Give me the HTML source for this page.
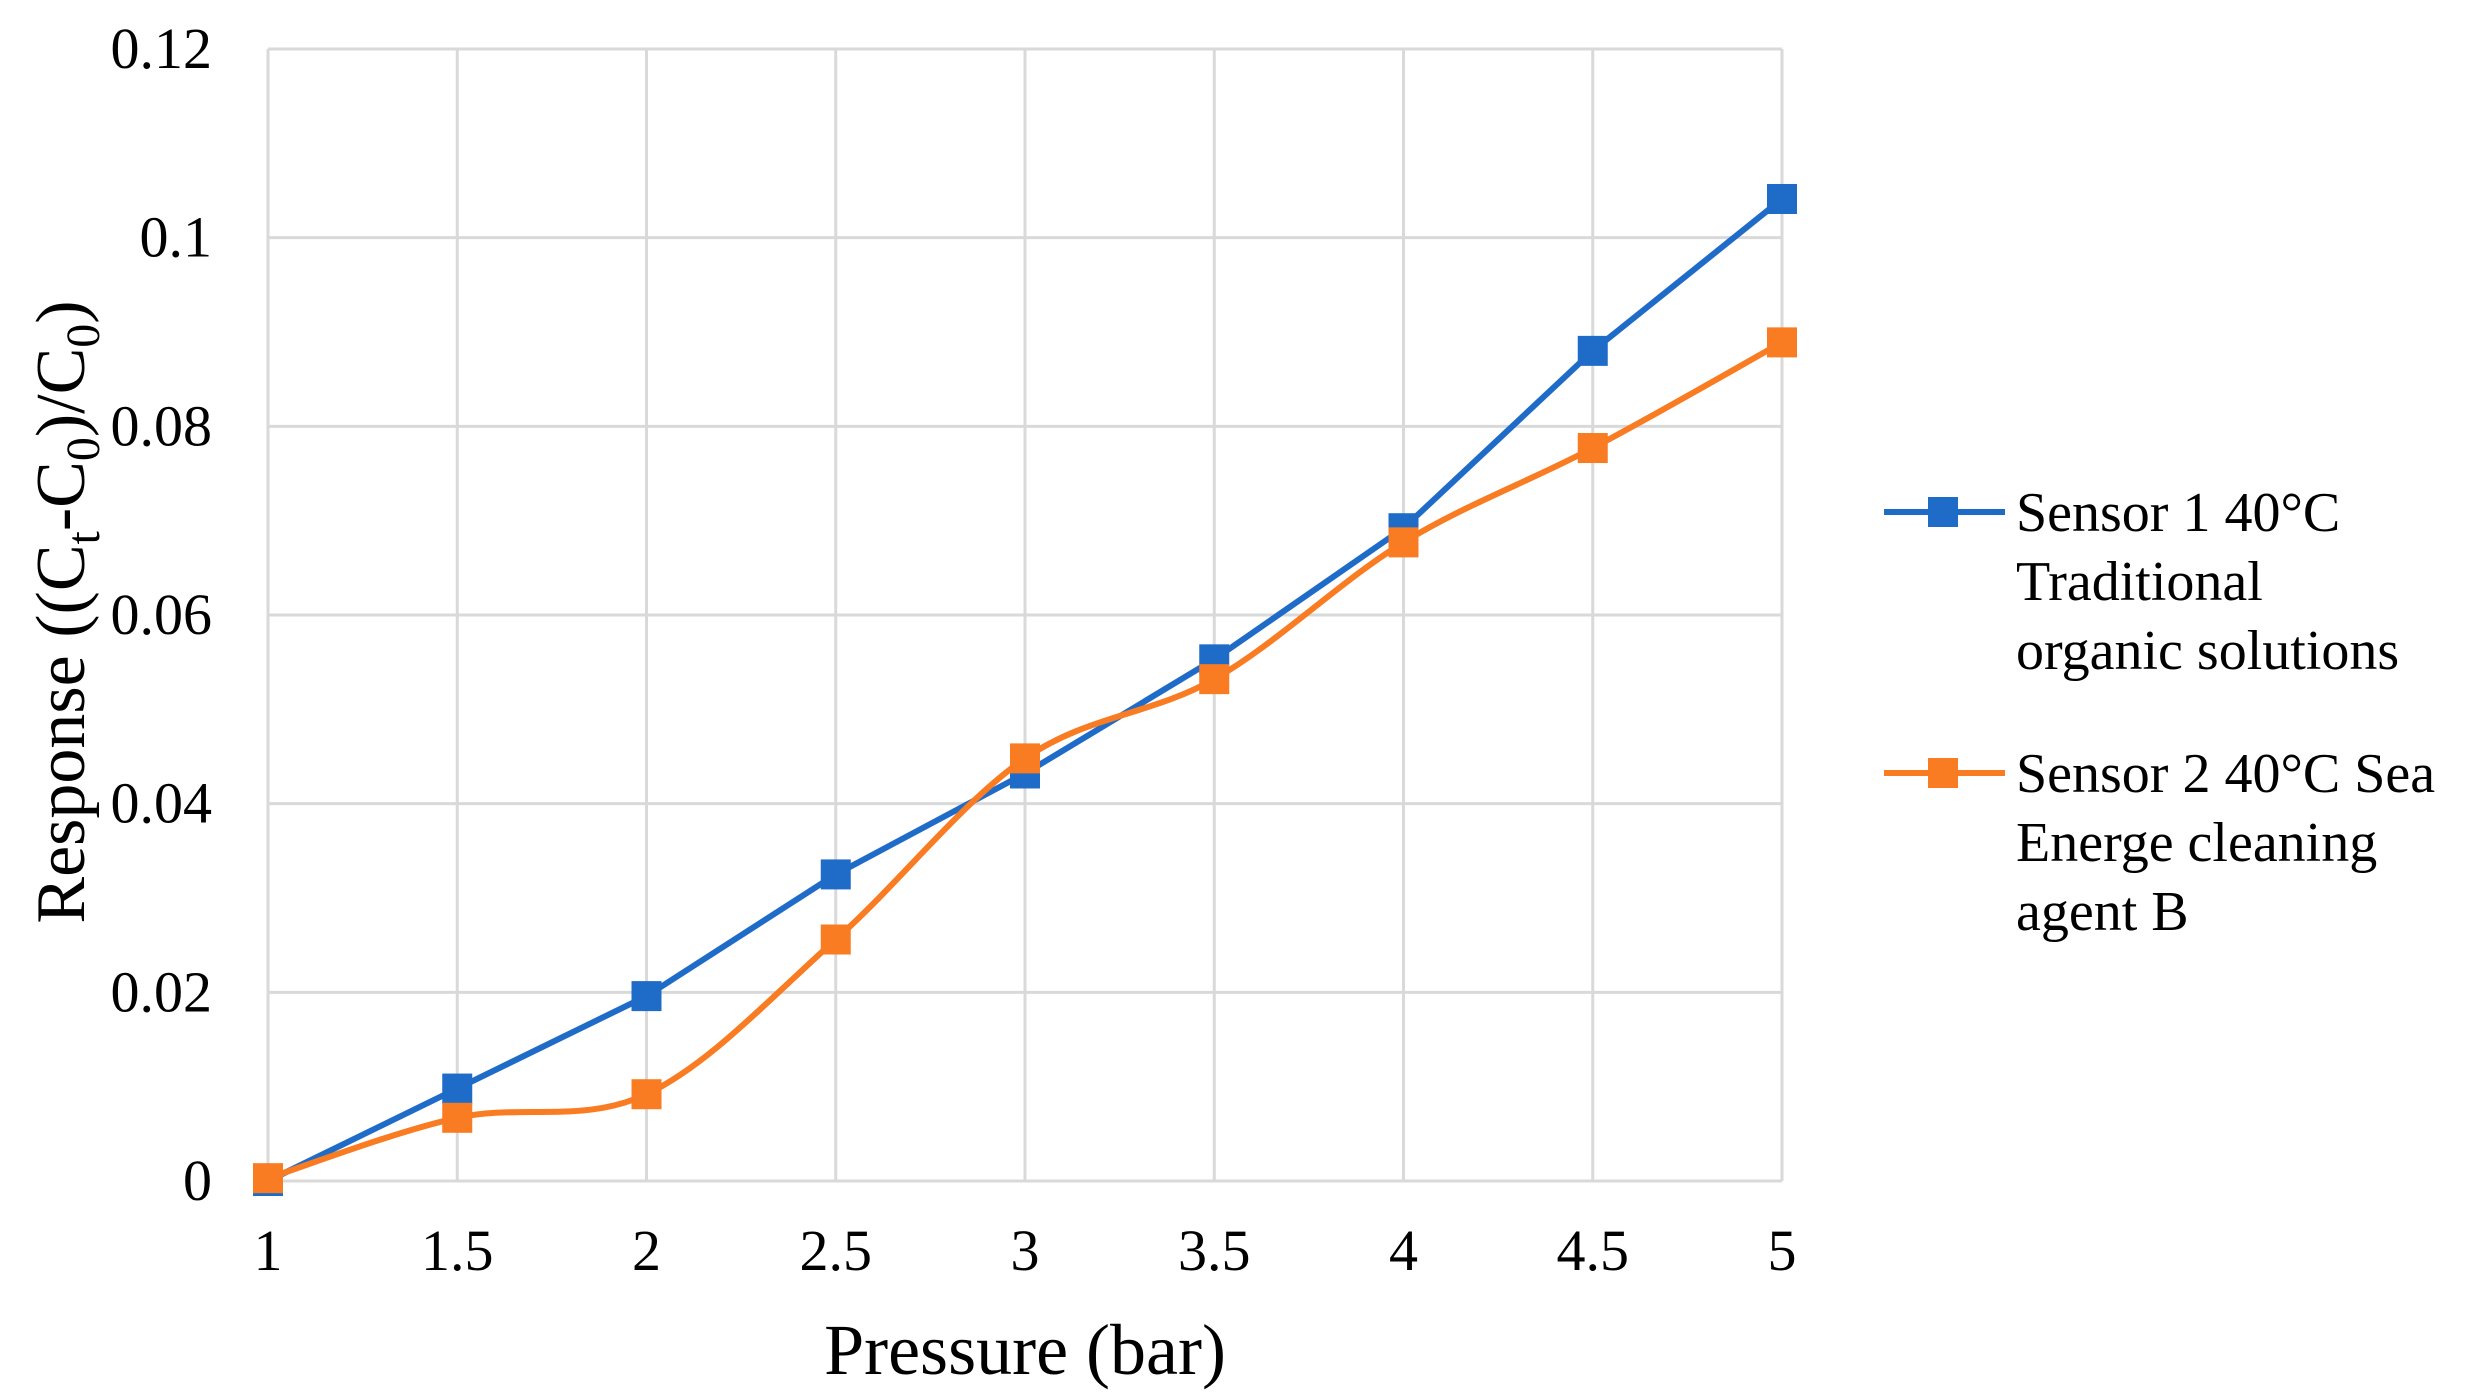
<!DOCTYPE html>
<html><head><meta charset="utf-8"><style>
html,body{margin:0;padding:0;background:#fff;}
svg{display:block;font-family:"Liberation Serif",serif;}
</style></head><body>
<svg id="chart" width="2490" height="1400" viewBox="0 0 2490 1400">
<g id="grid"></g>
<g id="series"></g>
<g id="labels"></g>
<text x="1025" y="1374" font-size="72" text-anchor="middle">Pressure (bar)</text>
<text transform="translate(84,612) rotate(-90)" font-size="70" text-anchor="middle">Response ((C<tspan font-size="48" dy="15">t</tspan><tspan dy="-15">-C</tspan><tspan font-size="48" dy="15">0</tspan><tspan dy="-15">)/C</tspan><tspan font-size="48" dy="15">0</tspan><tspan dy="-15">)</tspan></text>
<g>
<g>
<line x1="1884" y1="512" x2="2005" y2="512" stroke="#1f6cc8" stroke-width="6"/>
<rect x="1928" y="497" width="30" height="30" fill="#1f6cc8"/>
<text x="2016" y="531" font-size="56">Sensor 1 40°C</text>
<text x="2016" y="600" font-size="56">Traditional</text>
<text x="2016" y="669" font-size="56">organic solutions</text>
</g>
<g>
<line x1="1884" y1="773" x2="2005" y2="773" stroke="#f97b22" stroke-width="6"/>
<rect x="1928" y="758" width="30" height="30" fill="#f97b22"/>
<text x="2016" y="792" font-size="56">Sensor 2 40°C Sea</text>
<text x="2016" y="861" font-size="56">Energe cleaning</text>
<text x="2016" y="930" font-size="56">agent B</text>
</g>
</g>
</svg>
<script>
const categories = [1, 1.5, 2, 2.5, 3, 3.5, 4, 4.5, 5];
const sensor1 = [0, 0.0098, 0.0196, 0.0325, 0.0432, 0.0553, 0.0692, 0.088, 0.1041];
const sensor2 = [0.0003, 0.0067, 0.0092, 0.0256, 0.0448, 0.0532, 0.0677, 0.0777, 0.0889];
const yTicks = [0, 0.02, 0.04, 0.06, 0.08, 0.1, 0.12];
const yTickLabels = ["0", "0.02", "0.04", "0.06", "0.08", "0.1", "0.12"];
const xTickLabels = ["1", "1.5", "2", "2.5", "3", "3.5", "4", "4.5", "5"];

const NS = "http://www.w3.org/2000/svg";
const L = 268, R = 1782, T = 49, B = 1181;
const xs = v => L + (v - 1) / 4 * (R - L);
const ys = v => B - v / 0.12 * (B - T);
function mk(tag, attrs, parent){const e=document.createElementNS(NS,tag);for(const k in attrs)e.setAttribute(k,attrs[k]);parent.appendChild(e);return e;}
const grid=document.getElementById('grid'), ser=document.getElementById('series'), lab=document.getElementById('labels');

yTicks.forEach((t,i)=>{
  const ln=mk('line',{x1:L,x2:R,y1:ys(t),y2:ys(t),stroke:'#d9d9d9','stroke-width':3},grid);
  
  
  const tx=mk('text',{x:212,y:ys(t)+19,'font-size':58,'text-anchor':'end'},lab);
  tx.textContent=yTickLabels[i];
  
  
});
categories.forEach((c,i)=>{
  const ln=mk('line',{x1:xs(c),x2:xs(c),y1:T,y2:B,stroke:'#d9d9d9','stroke-width':3},grid);
  
  
  const tx=mk('text',{x:xs(c),y:1270,'font-size':58,'text-anchor':'middle'},lab);
  tx.textContent=xTickLabels[i];
  
  
});

function smoothPath(pts){
  let d=`M${pts[0][0]},${pts[0][1]}`;
  for(let i=0;i<pts.length-1;i++){
    const p0=pts[Math.max(0,i-1)],p1=pts[i],p2=pts[i+1],p3=pts[Math.min(pts.length-1,i+2)];
    const t=1/6;
    d+=` C${p1[0]+(p2[0]-p0[0])*t},${p1[1]+(p2[1]-p0[1])*t} ${p2[0]-(p3[0]-p1[0])*t},${p2[1]-(p3[1]-p1[1])*t} ${p2[0]},${p2[1]}`;
  }
  return d;
}
function drawSeries(vals,color,name,smooth){
  const pts=categories.map((c,i)=>[xs(c),ys(vals[i])]);
  const d=smooth?smoothPath(pts):'M'+pts.map(p=>p.join(',')).join(' L');
  const p=mk('path',{d:d,fill:'none',stroke:color,'stroke-width':6,'stroke-linejoin':'round'},ser);
  
  
  pts.forEach(pt=>{
    const r=mk('rect',{x:pt[0]-15,y:pt[1]-15,width:30,height:30,fill:color},ser);
    
    
  });
}
drawSeries(sensor1,'#1f6cc8','sensor-1',false);
drawSeries(sensor2,'#f97b22','sensor-2',true);
</script>
</body></html>
